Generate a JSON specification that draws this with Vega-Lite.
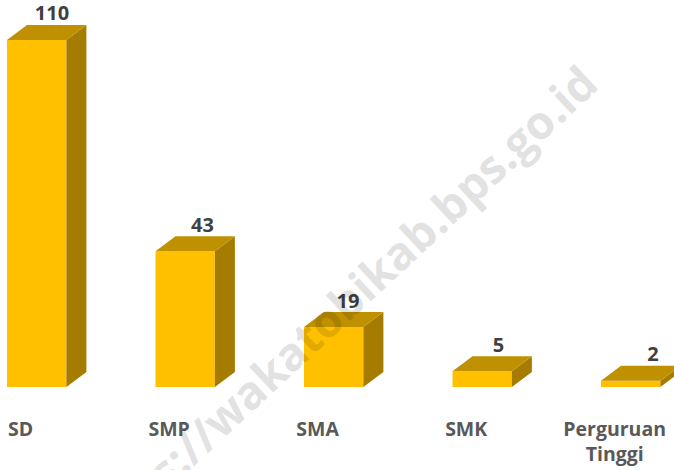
{
"$schema":"https://vega.github.io/schema/vega-lite/v6.json",
"width":674,"height":470,"padding":0,"autosize":{"type":"none"},
"background":"white","view":{"stroke":null},
"data":{"values":[
{"pendidikan":"SD","jumlah":110},
{"pendidikan":"SMP","jumlah":43},
{"pendidikan":"SMA","jumlah":19},
{"pendidikan":"SMK","jumlah":5},
{"pendidikan":"Perguruan Tinggi","jumlah":2}
]},
"transform":[
{"window":[{"op":"row_number","as":"n"}]},
{"calculate":"datum.n-1","as":"i"}
],
"layer":[
{"mark":{"type":"rect","color":"#FFC000"},
"transform":[{"calculate":"datum.i+0.4","as":"r"}],
"encoding":{
"x":{"field":"i","type":"quantitative","axis":null,"scale":{"domain":[-0.04714,4.4916],"nice":false,"zero":false}},
"x2":{"field":"r"},
"y":{"field":"jumlah","type":"quantitative","axis":null,"scale":{"domain":[-26.31,122.66],"nice":false,"zero":false}},
"y2":{"datum":0}}},
{"mark":{"type":"area","color":"#A67C00","orient":"vertical"},
"transform":[{"calculate":"[0,1]","as":"t"},{"flatten":["t"]},
{"calculate":"datum.i+0.4+datum.t*0.1347","as":"px"},
{"calculate":"datum.jumlah+datum.t*4.75","as":"hi"},
{"calculate":"datum.t*4.75","as":"lo"}],
"encoding":{
"x":{"field":"px","type":"quantitative","axis":null,"scale":{"domain":[-0.04714,4.4916],"nice":false,"zero":false}},
"y":{"field":"hi","type":"quantitative","axis":null,"scale":{"domain":[-26.31,122.66],"nice":false,"zero":false}},
"y2":{"field":"lo"},
"detail":{"field":"pendidikan"}}},
{"mark":{"type":"area","color":"#BF9000","orient":"vertical"},
"transform":[{"calculate":"[0,1,2,3]","as":"k"},{"flatten":["k"]},
{"calculate":"datum.i+[0,0.1347,0.4,0.5347][datum.k]","as":"px"},
{"calculate":"datum.jumlah+[0,4.75,4.75,4.75][datum.k]","as":"hi"},
{"calculate":"datum.jumlah+[0,0,0,4.75][datum.k]","as":"lo"}],
"encoding":{
"x":{"field":"px","type":"quantitative","axis":null,"scale":{"domain":[-0.04714,4.4916],"nice":false,"zero":false}},
"y":{"field":"hi","type":"quantitative","axis":null,"scale":{"domain":[-26.31,122.66],"nice":false,"zero":false}},
"y2":{"field":"lo"},
"detail":{"field":"pendidikan"}}},
{"mark":{"type":"text","font":"Open Sans","fontWeight":"bold","fontSize":20,"color":"#404040","align":"center","baseline":"middle","dy":-10.5},
"transform":[
{"calculate":"datum.i+[45,47,44,46,52][datum.i]/148.5","as":"px"},
{"calculate":"datum.jumlah+4.75","as":"hi"}],
"encoding":{
"x":{"field":"px","type":"quantitative","axis":null,"scale":{"domain":[-0.04714,4.4916],"nice":false,"zero":false}},
"y":{"field":"hi","type":"quantitative","axis":null,"scale":{"domain":[-26.31,122.66],"nice":false,"zero":false}},
"text":{"field":"jumlah","type":"quantitative"}}},
{"mark":{"type":"text","font":"Open Sans","fontWeight":"bold","fontSize":19.5,"color":"#595959","align":"center","lineBreak":" ","lineHeight":25},
"transform":[{"calculate":"datum.i+0.092","as":"px"}],
"encoding":{
"x":{"field":"px","type":"quantitative","axis":null,"scale":{"domain":[-0.04714,4.4916],"nice":false,"zero":false}},
"y":{"datum":-13.5,"type":"quantitative","axis":null,"scale":{"domain":[-26.31,122.66],"nice":false,"zero":false}},
"text":{"field":"pendidikan"}}},
{"data":{"values":[{"t":"https://wakatobikab.bps.go.id"}]},
"transform":[],
"mark":{"type":"text","font":"Open Sans","fontWeight":"bold","fontSize":46,"color":"#000000","opacity":0.11,"angle":-43,"align":"center","baseline":"middle"},
"encoding":{
"x":{"datum":2.229,"type":"quantitative","axis":null,"scale":{"domain":[-0.04714,4.4916],"nice":false,"zero":false}},
"y":{"datum":23.5,"type":"quantitative","axis":null,"scale":{"domain":[-26.31,122.66],"nice":false,"zero":false}},
"text":{"field":"t"}}}
]
}
